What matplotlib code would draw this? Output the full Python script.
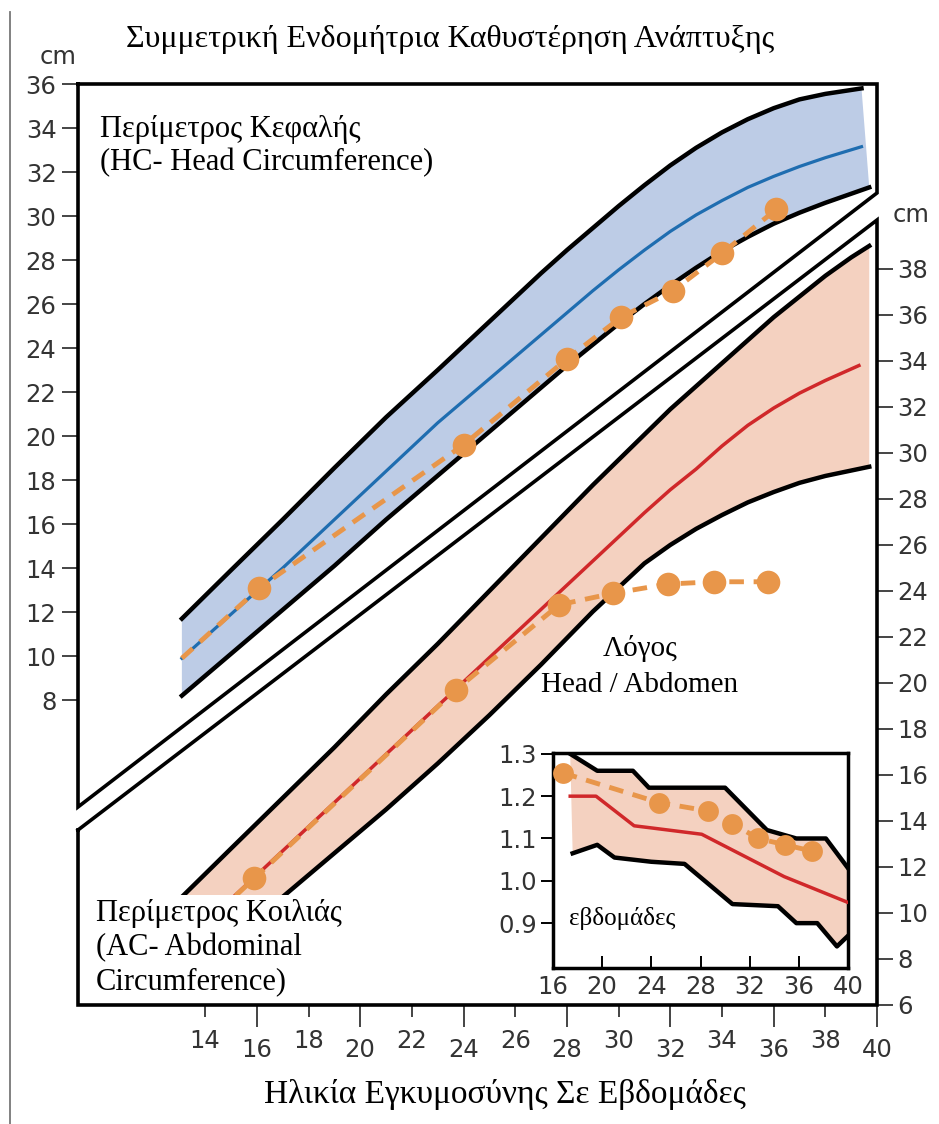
import matplotlib
matplotlib.use("Agg")
import matplotlib.pyplot as plt
import numpy as np
from matplotlib.lines import Line2D
from matplotlib.patches import Rectangle

# head circumference band (cm, left scale) vs gestational age (weeks)
hc_upper_wk = [13.1, 15, 17, 19, 21, 23, 25, 26, 27, 28, 29, 30, 31, 32, 33, 34, 35, 36, 37, 38, 39.4]
hc_upper_cm = [11.7, 13.9, 16.2, 18.55, 20.85, 23.0, 25.2, 26.3, 27.4, 28.45, 29.45, 30.45, 31.4,
               32.3, 33.1, 33.8, 34.4, 34.9, 35.3, 35.55, 35.8]
hc_mid_wk = [13.1, 15, 17, 19, 21, 23, 25, 27, 28, 29, 30, 31, 32, 33, 34, 35, 36, 37, 38, 39.4]
hc_mid_cm = [9.9, 11.9, 14.0, 16.2, 18.4, 20.6, 22.6, 24.6, 25.6, 26.6, 27.55, 28.45, 29.3, 30.05,
             30.7, 31.3, 31.8, 32.25, 32.65, 33.15]
hc_lower_wk = [13.1, 15, 17, 19, 21, 23, 25, 27, 28, 29, 30, 31, 32, 33, 34, 35, 36, 37, 38, 39.7]
hc_lower_cm = [8.2, 10.1, 12.1, 14.1, 16.2, 18.2, 20.2, 22.2, 23.2, 24.15, 25.1, 26.0, 26.85, 27.65,
               28.4, 29.05, 29.65, 30.15, 30.6, 31.3]
hc_obs_wk = [16.1, 24.0, 28.0, 30.1, 32.1, 34.0, 36.1]
hc_obs_cm = [13.1, 19.6, 23.5, 25.4, 26.6, 28.3, 30.3]

# abdominal circumference band (cm, right scale)
ac_upper_wk = [13.1, 15, 17, 19, 21, 23, 25, 27, 29, 31, 32, 33, 34, 35, 36, 37, 38, 39, 39.7]
ac_upper_cm = [10.7, 12.8, 15.0, 17.2, 19.5, 21.7, 24.0, 26.3, 28.6, 30.8, 31.9, 32.9, 33.9, 34.9,
               35.9, 36.8, 37.7, 38.5, 39.0]
ac_mid_wk = [13.1, 15, 17, 19, 21, 23, 25, 27, 29, 31, 32, 33, 34, 35, 36, 37, 38, 39.3]
ac_mid_cm = [8.6, 10.6, 12.7, 14.8, 16.9, 19.0, 21.1, 23.2, 25.3, 27.4, 28.4, 29.3, 30.3, 31.2,
             31.95, 32.6, 33.15, 33.8]
ac_lower_wk = [13.1, 15, 17, 19, 21, 23, 25, 27, 29, 31, 32, 33, 34, 35, 36, 37, 38, 39.7]
ac_lower_cm = [6.9, 8.75, 10.7, 12.6, 14.5, 16.5, 18.6, 20.8, 23.1, 25.2, 26.0, 26.7, 27.3, 27.85,
               28.3, 28.7, 29.0, 29.4]
ac_obs_wk = [15.9, 23.7, 27.7, 29.8, 31.9, 33.7, 35.8]
ac_obs_cm = [11.5, 19.7, 23.4, 23.9, 24.3, 24.4, 24.4]

# head / abdomen ratio (inset)
ratio_upper_wk = [17.4, 19.6, 22.5, 23.8, 30.0, 33.4, 35.8, 38.2, 40.0]
ratio_upper = [1.30, 1.26, 1.26, 1.22, 1.22, 1.12, 1.10, 1.10, 1.03]
ratio_mid_wk = [17.4, 19.5, 22.6, 24.0, 28.1, 34.8, 39.9]
ratio_mid = [1.20, 1.20, 1.13, 1.125, 1.11, 1.01, 0.95]
ratio_lower_wk = [17.6, 19.6, 21.0, 24.0, 26.7, 30.6, 34.3, 35.8, 37.5, 39.1, 40.0]
ratio_lower = [1.065, 1.085, 1.055, 1.045, 1.04, 0.945, 0.94, 0.90, 0.90, 0.845, 0.87]
ratio_obs_wk = [16.8, 24.6, 28.6, 30.6, 32.7, 34.9, 37.1]
ratio_obs = [1.255, 1.185, 1.165, 1.135, 1.10, 1.085, 1.07]

hc_ticks = list(range(8, 37, 2))
ac_ticks = list(range(6, 39, 2))
wk_major = list(range(16, 41, 4))
wk_minor = list(range(14, 39, 4))
ratio_ticks = [0.9, 1.0, 1.1, 1.2, 1.3]

BLUE_FILL = '#bdcce6'
BLUE = '#1f6db0'
SALMON = '#f4d1c0'
RED = '#d0282a'
ORANGE = '#e8964a'
INK = '#333333'
SERIF = ['Liberation Serif', 'DejaVu Serif']
SANS = ['DejaVu Sans']
NUM = 17.5
LBL = 22

W, H = 939, 1124


def px(x, y):
    """pixel position -> figure fraction"""
    return x / W, 1 - y / H


fig = plt.figure(figsize=(W / 100, H / 100), dpi=100)
ax = fig.add_axes([78 / W, 1 - 1005 / H, 799 / W, 921 / H])
ax2 = ax.twinx()
ax.set_xlim(9.08, 40.0)
ax.set_ylim(-5.86, 36)
ax2.set_ylim(6, 46.04)
for a in (ax, ax2):
    for s in a.spines.values():
        s.set_visible(False)

# head circumference
ax.fill(np.r_[hc_upper_wk, hc_lower_wk[::-1]], np.r_[hc_upper_cm, hc_lower_cm[::-1]],
        color=BLUE_FILL, lw=0, zorder=1)
ax.plot(hc_upper_wk, hc_upper_cm, color='k', lw=3.2, zorder=2)
ax.plot(hc_lower_wk, hc_lower_cm, color='k', lw=3.2, zorder=2)
ax.plot(hc_mid_wk, hc_mid_cm, color=BLUE, lw=2.3, zorder=3)
ax.plot(np.r_[hc_mid_wk[0], hc_obs_wk], np.r_[hc_mid_cm[0], hc_obs_cm], color=ORANGE, lw=3.5,
        dashes=(3.0, 2.0), zorder=4)
ax.plot(hc_obs_wk, hc_obs_cm, 'o', color=ORANGE, ms=17, mec='none', zorder=5)

# abdominal circumference
ax2.fill(np.r_[ac_upper_wk, ac_lower_wk[::-1]], np.r_[ac_upper_cm, ac_lower_cm[::-1]],
         color=SALMON, lw=0, zorder=1)
ax2.plot(ac_upper_wk, ac_upper_cm, color='k', lw=3.2, zorder=2)
ax2.plot(ac_lower_wk, ac_lower_cm, color='k', lw=3.2, zorder=2)
ax2.plot(ac_mid_wk, ac_mid_cm, color=RED, lw=2.5, zorder=3)
ax2.plot(np.r_[ac_mid_wk[0], ac_obs_wk], np.r_[ac_mid_cm[0], ac_obs_cm], color=ORANGE, lw=3.5,
         dashes=(3.0, 2.0), zorder=4)
ax2.plot(ac_obs_wk, ac_obs_cm, 'o', color=ORANGE, ms=17, mec='none', zorder=5)

# broken frame: two panels split by a diagonal gap
upper_panel = [(0, 1), (1, 1), (1, 0.8817), (0, 0.2150), (0, 1)]
lower_panel = [(0, 0.19), (1, 0.8523), (1, 0), (0, 0), (0, 0.19)]
for shape in (upper_panel, lower_panel):
    xs, ys = zip(*shape)
    ax2.add_line(Line2D(xs, ys, transform=ax2.transAxes, color='k', lw=2.6,
                        solid_joinstyle='miter', clip_on=False, zorder=8))

# white backing for the abdominal label
ax2.add_patch(Rectangle((0.0075, 0.003), 0.36, 0.116, transform=ax2.transAxes,
                        facecolor='white', edgecolor='none', zorder=6))

# axes ticks
ax.yaxis.tick_left()
ax.set_yticks(hc_ticks)
ax.set_yticklabels([str(v) for v in hc_ticks])
ax.tick_params(axis='y', length=11.5, width=1.4, pad=4, labelsize=NUM, color='#444',
               labelcolor=INK)
ax2.set_yticks(ac_ticks)
ax2.set_yticklabels([str(v) for v in ac_ticks])
ax2.tick_params(axis='y', length=11.5, width=1.4, pad=3, labelsize=NUM, color='#444',
                labelcolor=INK)
ax.set_xticks(wk_major)
ax.set_xticklabels([str(v) for v in wk_major])
ax.set_xticks(wk_minor, minor=True)
ax.set_xticklabels([str(v) for v in wk_minor], minor=True)
ax.tick_params(axis='x', which='major', length=15.5, width=1.4, pad=8, labelsize=NUM,
               color='#444', labelcolor=INK)
ax.tick_params(axis='x', which='minor', length=8.5, width=1.4, pad=9, labelsize=NUM,
               color='#444', labelcolor=INK)
for lab in ax.get_yticklabels() + ax2.get_yticklabels() + ax.get_xticklabels(which='both'):
    lab.set_family(SANS)

# inset: head / abdomen ratio
axi = fig.add_axes([553 / W, 1 - 968 / H, 295 / W, 215 / H])
axi.set_xlim(16, 40)
axi.set_ylim(0.794, 1.302)
axi.fill(np.r_[ratio_upper_wk, ratio_lower_wk[::-1]], np.r_[ratio_upper, ratio_lower[::-1]],
         color=SALMON, lw=0, zorder=1)
axi.plot(ratio_upper_wk, ratio_upper, color='k', lw=3.2, zorder=2)
axi.plot(ratio_lower_wk, ratio_lower, color='k', lw=3.2, zorder=2)
axi.plot(ratio_mid_wk, ratio_mid, color=RED, lw=2.5, zorder=3)
axi.plot(ratio_obs_wk, ratio_obs, color=ORANGE, lw=3.5, dashes=(3.0, 2.0), zorder=4)
axi.plot(ratio_obs_wk, ratio_obs, 'o', color=ORANGE, ms=15, mec='none', zorder=5)
for s in axi.spines.values():
    s.set_linewidth(2.5)
axi.set_xticks(wk_major)
axi.set_xticklabels([str(v) for v in wk_major])
axi.set_yticks(ratio_ticks)
axi.set_yticklabels([f'{v:.1f}' for v in ratio_ticks])
axi.tick_params(axis='x', direction='in', length=8.5, width=1.4, pad=5, labelsize=NUM,
                labelcolor=INK)
axi.tick_params(axis='y', direction='out', length=8.5, width=1.4, pad=3, labelsize=NUM,
                labelcolor=INK)
for lab in axi.get_xticklabels() + axi.get_yticklabels():
    lab.set_family(SANS)
axi.text(17.3, 0.912, 'εβδομάδες', family=SERIF, fontsize=18, ha='left', va='center')

# texts
fig.text(*px(450, 40), 'Συμμετρική Ενδομήτρια Καθυστέρηση Ανάπτυξης', family=SERIF,
         fontsize=23, ha='center', va='center')
fig.text(*px(58, 57), 'cm', family=SANS, fontsize=NUM, color=INK, ha='center', va='center')
fig.text(*px(893, 215), 'cm', family=SANS, fontsize=NUM, color=INK, ha='left', va='center')
fig.text(*px(100, 130), 'Περίμετρος Κεφαλής', family=SERIF, fontsize=LBL, ha='left', va='center')
fig.text(*px(100, 163), '(HC- Head Circumference)', family=SERIF, fontsize=LBL, ha='left',
         va='center')
fig.text(*px(96, 914), 'Περίμετρος Κοιλιάς', family=SERIF, fontsize=LBL, ha='left', va='center',
         zorder=10)
fig.text(*px(96, 948), '(AC- Abdominal', family=SERIF, fontsize=LBL, ha='left', va='center',
         zorder=10)
fig.text(*px(96, 982), 'Circumference)', family=SERIF, fontsize=LBL, ha='left', va='center',
         zorder=10)
fig.text(*px(640, 648), 'Λόγος', family=SERIF, fontsize=21, ha='center', va='center')
fig.text(*px(640, 685), 'Head / Abdomen', family=SERIF, fontsize=21, ha='center', va='center')
fig.text(*px(505, 1095), 'Ηλικία Εγκυμοσύνης Σε Εβδομάδες', family=SERIF, fontsize=24,
         ha='center', va='center')

# page edge rule on the left
fig.add_artist(Line2D([10 / W, 10 / W], [0, 1 - 12 / H], transform=fig.transFigure,
                      color='#777777', lw=1.3))

fig.savefig('out.png', dpi=100, facecolor='white')
